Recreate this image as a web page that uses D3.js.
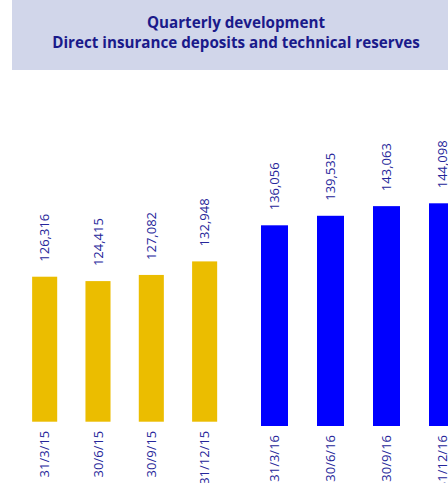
<!DOCTYPE html>
<html>
<head>
<meta charset="utf-8">
<script src="https://cdn.jsdelivr.net/npm/d3@7"></script>
<style>
    html, body { margin: 0; padding: 0; background: white; }
    svg { display: block; }
</style>
</head>
<body>
<script>
const titleLines = ["Quarterly development", "Direct insurance deposits and technical reserves"];

const categories2015 = ["31/3/15", "30/6/15", "30/9/15", "31/12/15"];
const values2015 = [126316, 124415, 127082, 132948];

const categories2016 = ["31/3/16", "30/6/16", "30/9/16", "31/12/16"];
const values2016 = [136056, 139535, 143063, 144098];

const width = 448, height = 483;
const textColor = "#26269a";
const fmt = d3.format(",");

const svg = d3.select("body")
    .append("svg")
    .attr("width", width)
    .attr("height", height);

// title box
svg.append("rect")
    .attr("x", 12)
    .attr("y", 0)
    .attr("width", width - 12)
    .attr("height", 70)
    .attr("fill", "#d1d6ea");

svg.selectAll(".title")
    .data(titleLines)
    .join("text")
    .attr("class", "title")
    .attr("x", 236)
    .attr("y", (d, i) => 28 + i * 20)
    .attr("text-anchor", "middle")
    .attr("font-family", "Open Sans")
    .attr("font-weight", "bold")
    .attr("font-size", 15.2)
    .attr("fill", "#1a1a8a")
    .text(d => d);

const drawGroup = (cats, vals, color, xRange, padInner, yDomain, yRange) => {
    const x = d3.scaleBand()
        .domain(cats)
        .range(xRange)
        .paddingInner(padInner)
        .paddingOuter(padInner / 2);

    const y = d3.scaleLinear()
        .domain(yDomain)
        .range(yRange);

    const data = cats.map((c, i) => ({ cat: c, value: vals[i] }));
    const base = y(yDomain[0]);

    svg.append("g")
        .selectAll("rect")
        .data(data)
        .join("rect")
        .attr("x", d => x(d.cat))
        .attr("y", d => y(d.value))
        .attr("width", x.bandwidth())
        .attr("height", d => base - y(d.value))
        .attr("fill", color);

    // value labels
    svg.append("g")
        .selectAll("text")
        .data(data)
        .join("text")
        .attr("transform", d => `translate(${x(d.cat) + x.bandwidth() / 2},${y(d.value) - 15}) rotate(-90)`)
        .attr("dy", "0.35em")
        .attr("text-anchor", "start")
        .attr("font-family", "Open Sans")
        .attr("font-size", 13)
        .attr("fill", textColor)
        .text(d => fmt(d.value));

    // category labels
    svg.append("g")
        .selectAll("text")
        .data(data)
        .join("text")
        .attr("transform", d => `translate(${x(d.cat) + x.bandwidth() / 2},${base + 9}) rotate(-90)`)
        .attr("dy", "0.35em")
        .attr("text-anchor", "end")
        .attr("font-family", "Open Sans")
        .attr("font-size", 13)
        .attr("fill", textColor)
        .text(d => d.cat);
};

drawGroup(categories2015, values2015, "#ebbd00", [18, 231.3], 0.53, [63500, 132948], [421.7, 261.4]);
drawGroup(categories2016, values2016, "#0000ff", [246.5, 470.5], 0.518, [62700, 144098], [426, 203.3]);
</script>
</body>
</html>
